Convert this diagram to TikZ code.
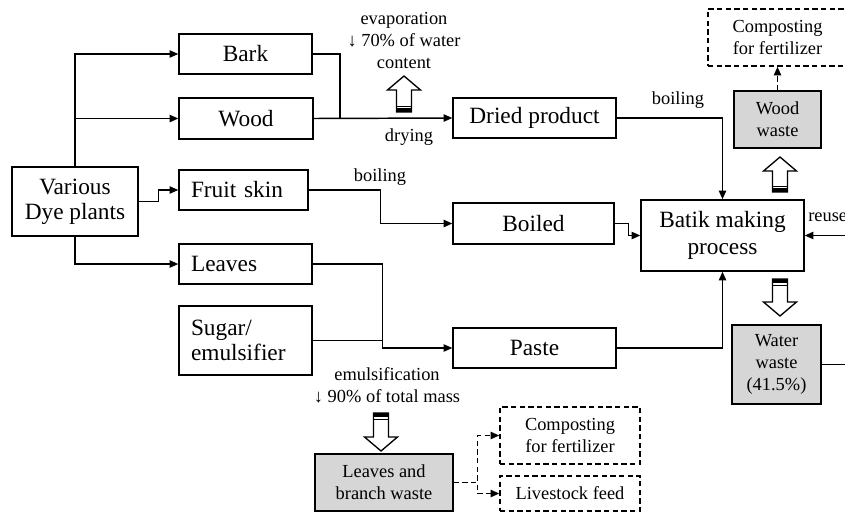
\documentclass[tikz,border=0pt]{standalone}
\usepackage{fontspec}
\setmainfont{Liberation Serif}
\usetikzlibrary{arrows.meta}
\newcommand{\bigtxt}{\fontsize{17.5}{20}\selectfont}
\newcommand{\smtxt}{\fontsize{13.8}{16.5}\selectfont}
\newcommand{\hollowUp}[3]{%
  \draw[line width=1pt, fill=white] (#1-7.5,#2) -- (#1-7.5,#3+14) -- (#1-16.5,#3+14) -- (#1,#3) -- (#1+16.5,#3+14) -- (#1+7.5,#3+14) -- (#1+7.5,#2) -- cycle;
  \fill (#1-7.5,#2) rectangle (#1+7.5,#2-4);
  \draw[line width=0.5pt] (#1-7.5,#2-6) -- (#1+7.5,#2-6);}
\newcommand{\hollowDown}[3]{%
  \draw[line width=1pt, fill=white] (#1-7.5,#2) -- (#1-7.5,#3-14) -- (#1-16.5,#3-14) -- (#1,#3) -- (#1+16.5,#3-14) -- (#1+7.5,#3-14) -- (#1+7.5,#2) -- cycle;
  \fill (#1-7.5,#2) rectangle (#1+7.5,#2+4);
  \draw[line width=0.5pt] (#1-7.5,#2+6) -- (#1+7.5,#2+6);}
\tikzset{
  box/.style={draw, line width=1.1pt, inner sep=0pt, align=center, font=\bigtxt},
  lbox/.style={draw, line width=1.1pt, inner ysep=0pt, inner xsep=9pt, align=left, font=\bigtxt},
  wbox/.style={draw, line width=1.1pt, inner sep=0pt, align=center, font=\smtxt, fill=gray!32},
  dbox/.style={draw, line width=1.1pt, inner sep=0pt, align=center, font=\smtxt, dash pattern=on 4pt off 2.5pt},
  lbl/.style={font=\smtxt, align=center, inner sep=0pt},
  arr/.style={line width=1.1pt, -{Triangle[length=6.5pt,width=5.5pt]}},
  ln/.style={line width=1.1pt},
  darr/.style={line width=1.1pt, dash pattern=on 4pt off 2.5pt, -{Triangle[length=6.5pt,width=5.5pt]}},
}
\begin{document}
\begin{tikzpicture}[x=0.75pt,y=-0.75pt]
\useasboundingbox (0,0) rectangle (845,514);
% boxes
\node[box, minimum width=126*0.75pt, minimum height=69*0.75pt] (various) at (75,201.5) {Various\\[-1pt]Dye plants};
\node[box, minimum width=133*0.75pt, minimum height=40*0.75pt] (bark) at (245.5,54) {Bark};
\node[box, minimum width=134*0.75pt, minimum height=41*0.75pt] (wood) at (246,118.5) {Wood};
\node[lbox, text width=105*0.75pt, minimum height=40*0.75pt] (fruit) at (243.5,190) {Fruit skin};
\node[lbox, text width=109*0.75pt, minimum height=40*0.75pt] (leaves) at (245.5,264) {Leaves};
\node[lbox, text width=109*0.75pt, minimum height=69*0.75pt] (sugar) at (245.5,340.5) {Sugar/\\[-1pt]emulsifier};
\node[box, minimum width=163*0.75pt, minimum height=40*0.75pt] (dried) at (534.5,118) {Dried product};
\node[box, minimum width=161*0.75pt, minimum height=41*0.75pt] (boiled) at (533.5,223.5) {Boiled};
\node[box, minimum width=163*0.75pt, minimum height=40*0.75pt] (paste) at (534.5,348) {Paste};
\node[box, minimum width=163*0.75pt, minimum height=71*0.75pt] (batik) at (722.5,235.5) {Batik making\\process};
\node[wbox, minimum width=87*0.75pt, minimum height=57*0.75pt] (wwaste) at (777.5,119.5) {Wood\\waste};
\node[dbox, minimum width=139*0.75pt, minimum height=57*0.75pt] (comp1) at (777.5,37.5) {Composting\\for fertilizer};
\node[wbox, minimum width=89*0.75pt, minimum height=79*0.75pt] (wwater) at (776.5,364.5) {Water\\waste\\(41.5\%)};
\node[wbox, minimum width=138*0.75pt, minimum height=57*0.75pt] (lwaste) at (384,482.5) {Leaves and\\branch waste};
\node[dbox, minimum width=140*0.75pt, minimum height=57*0.75pt] (comp2) at (570,435.5) {Composting\\for fertilizer};
\node[dbox, minimum width=140*0.75pt, minimum height=35*0.75pt] (live) at (570,493.5) {Livestock feed};
% labels
\node[lbl] (evap) at (404,40) {evaporation\\↓ 70\% of water\\content};
\node[lbl] (drying) at (409,137) {drying};
\node[lbl] (boil1) at (678,100) {boiling};
\node[lbl] (boil2) at (380,177) {boiling};
\node[lbl] (emul) at (387,385) {emulsification\\↓ 90\% of total mass};
\node[lbl, anchor=west] (reuse) at (808,217) {reuse};
% coordinates
\coordinate (j1) at (340,118.5);
\coordinate (j2) at (382,0);
\coordinate (r1) at (850,235.5);
\coordinate (r2) at (850,364.5);
% connectors
\draw[arr] (various.north) |- (bark.west);
\draw[arr] (various.north) |- (wood.west);
\draw[arr] (various.south) |- (leaves.west);
\draw[arr] (various.east) -- ++(20,0) |- (fruit.west);
\draw[ln] (bark.east) -| (j1);
\draw[arr] (wood.east) -- (dried.west);
\draw[arr] (dried.east) -| (batik.north);
\draw[arr] (fruit.east) -- ++(72,0) |- (boiled.west);
\draw[arr] (boiled.east) -- ++(14,0) |- (batik.west);
\draw[arr] (leaves.east) -- ++(70,0) |- (paste.west);
\draw[ln] (sugar.east) -- (sugar.east -| j2);
\draw[arr] (paste.east) -| (batik.south);
\draw[arr] (r1) -- (batik.east);
\draw[ln] (wwater.east) -- (r2);
\draw[darr] (wwaste.north) -- (comp1.south);
\draw[darr] (lwaste.east) -- ++(24,0) |- (comp2.west);
\draw[darr] (lwaste.east) -- ++(24,0) |- (live.west);
% hollow arrows
\hollowUp{404}{112}{76}
\hollowUp{780}{192}{157}
\hollowDown{780}{279}{316}
\hollowDown{381}{413}{451}
\end{tikzpicture}
\end{document}
